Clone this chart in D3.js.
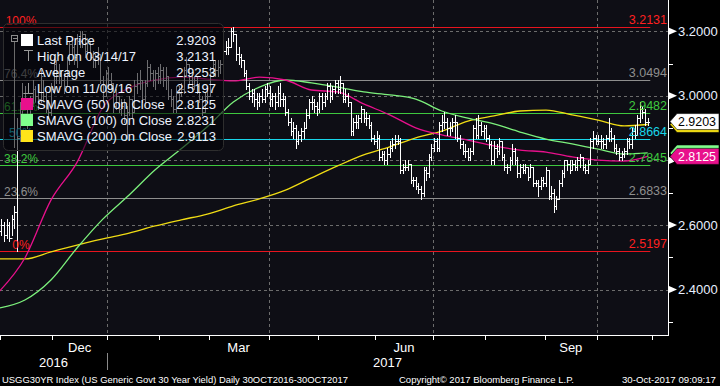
<!DOCTYPE html>
<html lang="en">
<head>
<meta charset="UTF-8">
<title>USGG30YR Index</title>
<script src="https://d3js.org/d3.v7.min.js"></script>
<style>
  body { margin: 0; padding: 0; background: #000; }
  svg { display: block; font-family: "Liberation Sans", Arial, sans-serif; }
</style>
</head>
<body>
<svg id="chart" width="720" height="386"></svg>
<script>
// trading calendar (bond market holidays skipped)
const startDay = [2016, 9, 31];
const holidays = ["2016-11-11", "2016-11-24", "2016-12-26", "2017-01-02", "2017-01-16", "2017-02-20",
                  "2017-04-14", "2017-05-29", "2017-07-04", "2017-09-04", "2017-10-09"];

// daily bars, 31 Oct 2016 .. 30 Oct 2017
const closes = [
  2.58,2.60,2.57,2.60,2.56,2.62,2.64,
  2.87,2.94,3.01,2.98,2.92,2.98,3.02,3.00,2.99,3.06,3.00,2.96,2.95,3.02,
  3.10,3.06,3.07,3.05,3.03,3.11,3.16,3.15,3.12,3.17,3.17,3.19,3.14,3.17,3.12,3.11,3.12,3.13,3.05,3.00,3.07,
  3.05,3.04,2.97,3.00,2.96,2.97,2.94,2.95,2.99,2.95,3.03,3.04,3.05,2.99,3.04,3.09,3.07,3.05,3.07,3.06,
  3.08,3.05,3.06,3.00,2.99,2.96,3.01,3.01,3.02,3.08,3.10,3.05,3.03,3.05,3.03,2.99,2.95,3.00,3.00,
  3.07,3.10,3.08,3.09,3.10,3.14,3.15,3.15,3.20,3.19,3.13,3.12,3.11,3.07,3.03,3.00,3.01,2.99,2.98,3.00,2.99,3.02,3.01,
  2.99,3.00,2.98,3.01,2.99,2.99,2.95,2.92,2.89,2.90,2.86,2.88,2.89,2.90,2.94,2.98,2.98,2.97,2.96,
  3.00,2.98,3.00,3.03,3.00,3.02,3.04,3.02,3.04,2.99,3.00,2.98,2.89,2.92,2.92,2.93,2.96,2.93,2.93,2.91,2.87,2.86,
  2.87,2.81,2.82,2.80,2.82,2.84,2.85,2.86,2.86,2.77,2.78,2.78,2.79,2.74,2.74,2.72,2.71,2.70,2.77,2.76,2.81,2.84,
  2.86,2.84,2.91,2.92,2.92,2.90,2.90,2.92,2.92,2.87,2.85,2.83,2.83,2.81,2.83,2.90,2.88,2.91,2.89,2.90,
  2.87,2.85,2.80,2.84,2.83,2.86,2.81,2.78,2.78,2.80,2.83,2.80,2.76,2.78,2.77,2.78,2.75,2.78,2.73,2.73,2.72,2.74,2.73,
  2.77,2.69,2.70,2.66,2.68,2.73,2.76,2.80,2.79,2.77,2.79,2.78,2.80,2.81,2.78,2.77,2.79,2.86,2.87,2.86,
  2.86,2.86,2.85,2.87,2.89,2.87,2.84,2.83,2.81,2.82,2.83,2.86,2.85,2.89,2.88,2.93,2.96,2.95,2.92,2.9203
];
const highs = [
  2.60,2.62,2.61,2.62,2.61,2.63,2.66,
  2.93,2.98,3.04,3.03,2.99,3.00,3.05,3.03,3.01,3.08,3.05,3.01,2.98,3.04,
  3.12,3.11,3.10,3.08,3.07,3.12,3.17,3.18,3.16,3.19,3.20,3.20,3.19,3.18,3.17,3.14,3.13,3.15,3.13,3.06,3.08,
  3.09,3.07,3.04,3.02,3.00,2.99,2.99,2.97,3.00,2.99,3.05,3.07,3.08,3.05,3.05,3.11,3.10,3.08,3.08,3.09,
  3.10,3.09,3.09,3.06,3.02,3.00,3.03,3.03,3.04,3.09,3.12,3.10,3.06,3.06,3.06,3.04,3.00,3.01,3.03,
  3.09,3.11,3.11,3.11,3.11,3.15,3.17,3.18,3.21,3.2131,3.19,3.15,3.13,3.11,3.08,3.04,3.02,3.02,3.01,3.01,3.02,3.03,3.04,
  3.03,3.01,3.01,3.03,3.04,3.01,3.00,2.96,2.93,2.92,2.91,2.89,2.90,2.92,2.96,2.99,3.00,2.99,2.98,
  3.01,3.01,3.01,3.04,3.04,3.03,3.05,3.05,3.06,3.04,3.02,3.01,2.98,2.93,2.94,2.94,2.97,2.96,2.95,2.94,2.92,2.88,
  2.89,2.88,2.83,2.83,2.84,2.86,2.87,2.88,2.88,2.87,2.79,2.80,2.80,2.79,2.75,2.75,2.73,2.72,2.78,2.78,2.82,2.85,
  2.87,2.87,2.92,2.94,2.95,2.93,2.92,2.93,2.94,2.92,2.88,2.86,2.85,2.84,2.84,2.91,2.93,2.94,2.92,2.91,
  2.91,2.88,2.86,2.86,2.85,2.87,2.86,2.82,2.79,2.81,2.85,2.84,2.81,2.79,2.79,2.79,2.78,2.79,2.78,2.74,2.74,2.75,2.75,
  2.78,2.77,2.72,2.71,2.69,2.74,2.77,2.80,2.80,2.80,2.80,2.80,2.81,2.82,2.81,2.79,2.80,2.87,2.89,2.88,
  2.88,2.88,2.87,2.88,2.93,2.90,2.88,2.85,2.84,2.83,2.84,2.87,2.87,2.90,2.91,2.94,2.98,2.97,2.96,2.93
];
const lows = [
  2.55,2.57,2.55,2.56,2.55,2.57,2.59,
  2.5197,2.86,2.94,2.96,2.90,2.91,2.97,2.98,2.96,2.98,2.99,2.95,2.93,2.94,
  3.01,3.04,3.04,3.03,3.01,3.03,3.10,3.13,3.10,3.09,3.15,3.15,3.12,3.13,3.11,3.09,3.09,3.10,3.04,2.98,3.00,
  3.03,3.02,2.95,2.96,2.95,2.94,2.92,2.87,2.94,2.93,2.95,3.01,3.02,2.98,2.98,3.03,3.05,3.03,3.02,3.04,
  3.04,3.03,3.02,2.99,2.97,2.95,2.95,2.99,3.00,3.01,3.06,3.04,3.02,3.02,3.01,2.98,2.94,2.95,2.98,
  3.00,3.06,3.06,3.06,3.07,3.09,3.13,3.13,3.15,3.17,3.11,3.10,3.09,3.06,3.02,2.99,2.98,2.97,2.96,2.97,2.98,2.98,3.00,
  2.97,2.97,2.96,2.97,2.97,2.97,2.94,2.91,2.88,2.87,2.84,2.85,2.86,2.87,2.90,2.93,2.96,2.95,2.94,
  2.95,2.96,2.97,2.99,2.98,2.99,3.01,3.01,3.01,2.98,2.98,2.97,2.88,2.88,2.90,2.90,2.92,2.92,2.91,2.90,2.86,2.85,
  2.84,2.80,2.80,2.79,2.79,2.81,2.83,2.84,2.85,2.76,2.76,2.77,2.77,2.73,2.72,2.71,2.70,2.68,2.69,2.74,2.75,2.80,
  2.83,2.83,2.83,2.89,2.90,2.88,2.88,2.89,2.87,2.86,2.84,2.82,2.81,2.80,2.80,2.82,2.87,2.87,2.88,2.87,
  2.86,2.84,2.79,2.79,2.81,2.82,2.80,2.77,2.76,2.77,2.79,2.79,2.75,2.75,2.76,2.76,2.74,2.75,2.72,2.72,2.69,2.71,2.72,
  2.72,2.68,2.68,2.64,2.65,2.68,2.72,2.75,2.77,2.76,2.77,2.77,2.77,2.78,2.77,2.76,2.76,2.79,2.84,2.85,
  2.85,2.84,2.84,2.84,2.86,2.86,2.83,2.82,2.80,2.80,2.81,2.82,2.84,2.84,2.87,2.88,2.92,2.93,2.91,2.91
];

// moving averages read every 10 bars
const smaIdx = [0,10,20,30,40,50,60,70,80,90,100,110,120,130,140,150,160,170,180,190,200,210,220,230,240,249];
const sma50  = [2.393,2.498,2.677,2.794,2.965,3.024,3.049,3.058,3.052,3.046,3.058,3.049,3.018,3.012,2.975,2.941,2.901,2.879,2.863,2.845,2.832,2.826,2.811,2.801,2.798,2.8125];
const sma100 = [2.343,2.368,2.430,2.529,2.619,2.693,2.771,2.836,2.904,2.981,3.027,3.049,3.040,3.027,3.012,3.003,2.990,2.953,2.931,2.913,2.888,2.866,2.851,2.835,2.820,2.8231];
const sma200 = [2.495,2.495,2.517,2.538,2.557,2.575,2.597,2.616,2.634,2.659,2.681,2.708,2.746,2.783,2.817,2.842,2.870,2.891,2.922,2.938,2.953,2.956,2.941,2.925,2.907,2.9113];

// fibonacci retracement
const fibPct   = ["100%", "76.4%", "61.8%", "50%", "38.2%", "23.6%", "0%"];
const fibVal   = [3.2131, 3.0494, 2.9482, 2.8664, 2.7845, 2.6833, 2.5197];
const fibColor = ["#e8141e", "#8e8e8e", "#3ec83e", "#19d6ea", "#3ec83e", "#8e8e8e", "#e8141e"];

const yMajor = [2.4, 2.6, 2.8, 3.0, 3.2];
const yMinor = [2.3, 2.5, 2.7, 2.9, 3.1];
const monthLabelKeys = ["2016-12", "2017-03", "2017-06", "2017-09"];
const monthLabelText = ["Dec", "Mar", "Jun", "Sep"];

const legendNames  = ["Last Price", "High on 03/14/17", "Average", "Low on 11/09/16",
                      "SMAVG (50) on Close", "SMAVG (100) on Close", "SMAVG (200) on Close"];
const legendValues = ["2.9203", "3.2131", "2.9253", "2.5197", "2.8125", "2.8231", "2.9113"];
const legendMarks  = ["#ffffff", "high", "none", "low", "#e8108c", "#80ff8c", "#ffe41a"];

// right-hand value tags: value, fill, text colour, shown text
const tagVals   = [2.9113, 2.9203, 2.8231, 2.8125];
const tagFills  = ["#f0dc14", "#ffffff", "#80ff8c", "#e8108c"];
const tagInk    = ["#000", "#000", "#000", "#fff"];
const tagShown  = [false, true, false, true];

const colors = { sma50: "#e8108c", sma100: "#7cf07c", sma200: "#f0dc14" };

// ---- build trading dates ----
const hol = new Set(holidays);
const dates = [];
for (let d = new Date(Date.UTC(startDay[0], startDay[1], startDay[2])); dates.length < 262; d.setUTCDate(d.getUTCDate() + 1)) {
  const dow = d.getUTCDay();
  if (dow === 0 || dow === 6 || hol.has(d.toISOString().slice(0, 10))) continue;
  dates.push(new Date(d));
}
const monthKey = d => d.toISOString().slice(0, 7);

const svg = d3.select("#chart");
const plotW = 668, plotH = 335;

const x = d3.scaleLinear().domain([0.45, 256.8]).range([0, plotW]);
const y = d3.scaleLinear().domain([2.2595, 3.2967]).range([plotH, 0]);
const px = v => Math.round(v) + 0.5;

svg.append("rect").attr("width", 720).attr("height", 386).attr("fill", "#000");
svg.append("rect").attr("width", plotW).attr("height", plotH).attr("fill", "#0e0e15");

svg.append("defs").append("clipPath").attr("id", "plotClip")
  .append("rect").attr("width", plotW).attr("height", plotH);
const plot = svg.append("g").attr("clip-path", "url(#plotClip)");

// month boundaries
const bounds = [];
for (let i = 1; i < dates.length; i++) {
  if (dates[i].getUTCMonth() !== dates[i - 1].getUTCMonth()) {
    bounds.push({ i: i, key: monthKey(dates[i]), month: dates[i].getUTCMonth(), year: dates[i].getUTCFullYear() });
  }
}
const bx = b => x(b.i - 0.5);

// grid
plot.selectAll(".hgrid").data(yMajor).join("line")
  .attr("x1", 0).attr("x2", plotW)
  .attr("y1", d => px(y(d))).attr("y2", d => px(y(d)))
  .attr("stroke", "#6c6c6c").attr("stroke-dasharray", "3,3");
plot.selectAll(".vgrid").data(bounds.filter(b => b.month % 3 === 0 && bx(b) < plotW)).join("line")
  .attr("x1", d => px(bx(d))).attr("x2", d => px(bx(d)))
  .attr("y1", 0).attr("y2", plotH)
  .attr("stroke", "#6c6c6c").attr("stroke-dasharray", "3,3");

// fib lines
const fibEnd = x(closes.length);
plot.selectAll(".fib").data(fibVal).join("line")
  .attr("x1", 0).attr("x2", fibEnd)
  .attr("y1", d => px(y(d))).attr("y2", d => px(y(d)))
  .attr("stroke", (d, i) => fibColor[i]).attr("stroke-width", 1.2);

// moving averages
const smaLine = d3.line().x((d, i) => x(smaIdx[i])).y(d => y(d)).curve(d3.curveMonotoneX);
[[sma200, colors.sma200], [sma100, colors.sma100], [sma50, colors.sma50]].forEach(([s, c]) => {
  plot.append("path").attr("d", smaLine(s)).attr("fill", "none").attr("stroke", c).attr("stroke-width", 1.3);
});

// price bars: high-low with open (left) and close (right) ticks
plot.selectAll(".bar").data(closes).join("path")
  .attr("d", (c, i) => {
    const cx = Math.round(x(i));
    const o = i > 0 ? closes[i - 1] : c;
    const yo = px(y(o)), yc = px(y(c));
    return `M${cx + 0.5},${Math.round(y(highs[i]))}V${Math.round(y(lows[i])) + 1}` +
           `M${cx - 1},${yo}H${cx + 0.5}M${cx + 0.5},${yc}H${cx + 2}`;
  })
  .attr("fill", "none").attr("stroke", "#ffffff").attr("stroke-width", 1);

// fib labels
plot.selectAll(".fibR").data(fibVal).join("text")
  .attr("x", 667).attr("y", d => y(d) - 3)
  .attr("text-anchor", "end").attr("font-size", 12.5)
  .attr("fill", (d, i) => i === 0 || i === 6 ? "#ff2020" : fibColor[i])
  .text(d => d.toFixed(4));
plot.selectAll(".fibL").data(fibVal).join("text")
  .attr("x", 21).attr("y", d => y(d) - 2)
  .attr("text-anchor", "middle").attr("font-size", 12)
  .attr("fill", (d, i) => i === 0 || i === 6 ? "#ff2020" : fibColor[i])
  .text((d, i) => fibPct[i]);

// legend
const lg = svg.append("g");
lg.append("rect").attr("x", 3.5).attr("y", 23.5).attr("width", 220).attr("height", 127).attr("rx", 5)
  .attr("fill", "rgba(4,4,8,0.58)").attr("stroke", "#2e2e2e");
lg.append("rect").attr("x", 11.5).attr("y", 35.5).attr("width", 6).attr("height", 6)
  .attr("fill", "none").attr("stroke", "#8a8a8a");
lg.append("line").attr("x1", 13).attr("x2", 17).attr("y1", 38.5).attr("y2", 38.5).attr("stroke", "#8a8a8a");
lg.append("line").attr("x1", 14.5).attr("x2", 14.5).attr("y1", 42).attr("y2", 148).attr("stroke", "#6a6a6a");
legendNames.forEach((name, k) => {
  const cy = 40 + k * 16;
  const m = legendMarks[k];
  if (m === "high") {
    lg.append("path").attr("d", `M24,${cy - 5.5}H33M28.5,${cy - 5.5}V${cy + 5}`).attr("stroke", "#9a9a9a").attr("fill", "none");
  } else if (m === "low") {
    lg.append("path").attr("d", `M28.5,${cy - 5}V${cy + 5.5}M24,${cy + 5.5}H33`).attr("stroke", "#9a9a9a").attr("fill", "none");
  } else if (m !== "none") {
    lg.append("rect").attr("x", 21).attr("y", cy - 6).attr("width", 12).attr("height", 12).attr("fill", m);
  }
  lg.append("text").attr("x", 37).attr("y", cy + 4.5).attr("font-size", 13).attr("fill", "#eef3ff").text(name);
  lg.append("text").attr("x", 216).attr("y", cy + 4.5).attr("font-size", 13).attr("fill", "#eef3ff")
    .attr("text-anchor", "end").text(legendValues[k]);
});

// axes
svg.append("line").attr("x1", 0).attr("x2", plotW + 1).attr("y1", plotH + 0.5).attr("y2", plotH + 0.5).attr("stroke", "#fff");
svg.append("line").attr("x1", plotW + 0.5).attr("x2", plotW + 0.5).attr("y1", 0).attr("y2", plotH + 1).attr("stroke", "#fff");

// a tick label that sits under a value tag is covered in the original, so it is left out
const coveredByTag = v => tagVals.some((t, k) => tagShown[k] && Math.abs(y(t) - y(v)) < 12);
yMajor.forEach(v => {
  const yy = y(v);
  svg.append("path").attr("d", `M669,${yy - 3.5}L677,${yy}L669,${yy + 3.5}Z`).attr("fill", "#fff");
  if (!coveredByTag(v)) {
    svg.append("text").attr("x", 678).attr("y", yy + 4.5).attr("font-size", 13).attr("fill", "#e8f0ff").text(v.toFixed(4));
  }
});
yMinor.forEach(v => {
  svg.append("line").attr("x1", plotW).attr("x2", plotW + 5).attr("y1", px(y(v))).attr("y2", px(y(v))).attr("stroke", "#fff");
});

bounds.filter(b => bx(b) <= plotW).forEach(b => {
  svg.append("line").attr("x1", px(bx(b))).attr("x2", px(bx(b))).attr("y1", plotH).attr("y2", plotH + 5).attr("stroke", "#fff");
});
monthLabelKeys.forEach((key, k) => {
  const bi = bounds.findIndex(b => b.key === key);
  const cx = (bx(bounds[bi]) + bx(bounds[bi + 1])) / 2;
  svg.append("text").attr("x", cx).attr("y", 352).attr("text-anchor", "middle")
    .attr("font-size", 13).attr("fill", "#fff").text(monthLabelText[k]);
});
const yearSplit = bx(bounds.find(b => b.key === "2017-01"));
svg.append("line").attr("x1", px(yearSplit)).attr("x2", px(yearSplit)).attr("y1", 353).attr("y2", 370).attr("stroke", "#8a8a8a");
[["2016", yearSplit / 2], ["2017", (yearSplit + plotW) / 2]].forEach(([t, cx]) => {
  svg.append("text").attr("x", cx).attr("y", 367).attr("text-anchor", "middle")
    .attr("font-size", 13).attr("fill", "#fff").text(t);
});

// value tags on the right
tagVals.forEach((v, k) => {
  const cy = y(v);
  svg.append("path").attr("d", `M670,${cy}L677,${cy - 8}H719V${cy + 8}H677Z`)
    .attr("fill", tagFills[k]).attr("stroke", "#000").attr("stroke-width", 0.6);
  if (tagShown[k]) {
    svg.append("text").attr("x", 678).attr("y", cy + 4.5).attr("font-size", 13).attr("fill", tagInk[k])
      .attr("textLength", 38).attr("lengthAdjust", "spacingAndGlyphs").text(v.toFixed(4));
  }
});

// footer
const foot = [
  ["USGG30YR Index (US Generic Govt 30 Year Yield)  Daily 30OCT2016-30OCT2017", 2, 346],
  ["Copyright\u00a9 2017 Bloomberg Finance L.P.", 399, 175],
  ["30-Oct-2017 09:09:17", 622, 94]
];
foot.forEach(([t, fx, w]) => {
  svg.append("text").attr("x", fx).attr("y", 383).attr("font-size", 9.5).attr("fill", "#fff")
    .attr("textLength", w).attr("lengthAdjust", "spacingAndGlyphs").text(t);
});
</script>
</body>
</html>
